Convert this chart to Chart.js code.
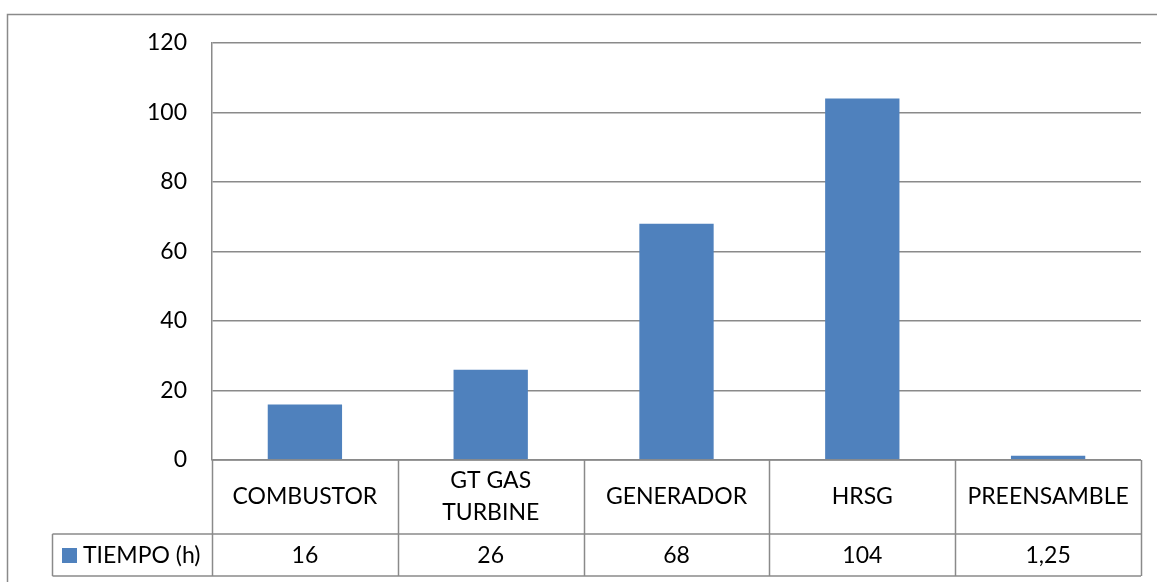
<!DOCTYPE html>
<html>
<head>
<meta charset="utf-8">
<script src="https://cdn.jsdelivr.net/npm/chart.js@4.4.1/dist/chart.umd.min.js"></script>
<style>
    html, body { margin: 0; padding: 0; background: #fff; }
    #wrap { width: 1157px; height: 582px; }
</style>
</head>
<body>
<div id="wrap"><canvas id="chart" width="1157" height="582"></canvas></div>
<script>
// chart data
const categories = ['COMBUSTOR', ['GT GAS', 'TURBINE'], 'GENERADOR', 'HRSG', 'PREENSAMBLE'];
const seriesName = 'TIEMPO (h)';
const tiempo = [16, 26, 68, 104, 1.25];
const yTicks = [0, 20, 40, 60, 80, 100, 120];

const FONT = 'Lato, "Open Sans", sans-serif';
const FONT_SIZE = 23;
const LINE = '#8a8a8a';
const BAR = '#4F81BD';

// draws the outer frame and the data table under the plot
const tablePlugin = {
    id: 'dataTable',
    beforeDraw(chart) {
        const ctx = chart.ctx;
        ctx.save();
        ctx.strokeStyle = LINE;
        ctx.lineWidth = 1.5;
        ctx.strokeRect(7.5, 14.5, 1300, 700);
        ctx.restore();
    },
    afterDraw(chart) {
        const ctx = chart.ctx;
        const area = chart.chartArea;
        const x = chart.scales.x;
        const row1 = area.bottom;
        const row2 = row1 + 74;
        const row3 = row2 + 42;
        const legendLeft = 52.5;
        const n = categories.length;
        const colW = (area.right - area.left) / n;

        ctx.save();
        ctx.strokeStyle = LINE;
        ctx.lineWidth = 1.5;
        ctx.beginPath();
        ctx.moveTo(area.left, row1); ctx.lineTo(area.right, row1);
        ctx.moveTo(legendLeft, row2); ctx.lineTo(area.right, row2);
        ctx.moveTo(legendLeft, row3); ctx.lineTo(area.right, row3);
        ctx.moveTo(legendLeft, row2); ctx.lineTo(legendLeft, row3);
        for (let i = 0; i <= n; i++) {
            const cx = Math.round(area.left + i * colW) + 0.5;
            ctx.moveTo(cx, row1); ctx.lineTo(cx, row3);
        }
        ctx.stroke();

        ctx.fillStyle = '#000';
        ctx.font = FONT_SIZE + 'px ' + FONT;
        ctx.textAlign = 'center';
        ctx.textBaseline = 'middle';
        const midCat = (row1 + row2) / 2;
        const midVal = (row2 + row3) / 2;
        categories.forEach((c, i) => {
            const cx = x.getPixelForValue(i);
            const lines = Array.isArray(c) ? c : [c];
            lines.forEach((t, j) => {
                ctx.fillText(t, cx, midCat + (j - (lines.length - 1) / 2) * 32);
            });
            ctx.fillText(String(tiempo[i]).replace('.', ','), cx, midVal + 1);
        });

        // legend key
        ctx.fillStyle = BAR;
        ctx.fillRect(62, 548, 15, 15);
        ctx.fillStyle = '#000';
        ctx.textAlign = 'left';
        ctx.fillText(seriesName, 83, midVal + 1);
        ctx.restore();
    }
};

function draw() {
    new Chart(document.getElementById('chart'), {
        type: 'bar',
        data: {
            labels: categories,
            datasets: [{
                label: seriesName,
                data: tiempo,
                backgroundColor: BAR,
                barPercentage: 0.4,
                categoryPercentage: 1
            }]
        },
        options: {
            responsive: false,
            animation: false,
            layout: { padding: { top: 43, right: 16, left: 0, bottom: 0 } },
            plugins: {
                legend: { display: false },
                tooltip: { enabled: false },
                title: { display: false }
            },
            scales: {
                x: {
                    grid: { display: false },
                    border: { display: false },
                    ticks: { display: false },
                    afterFit(scale) { scale.height = 122; }
                },
                y: {
                    min: 0,
                    max: 120,
                    afterBuildTicks(scale) { scale.ticks = yTicks.map(v => ({ value: v })); },
                    grid: { color: LINE, lineWidth: 1.5, drawTicks: false },
                    border: { display: true, color: LINE, width: 1.5 },
                    ticks: {
                        padding: 25,
                        color: '#000',
                        font: { family: FONT, size: FONT_SIZE }
                    },
                    afterFit(scale) { scale.width = 212; }
                }
            }
        },
        plugins: [tablePlugin]
    });
}

document.fonts.load(FONT_SIZE + 'px Lato').then(draw, draw);
</script>
</body>
</html>
